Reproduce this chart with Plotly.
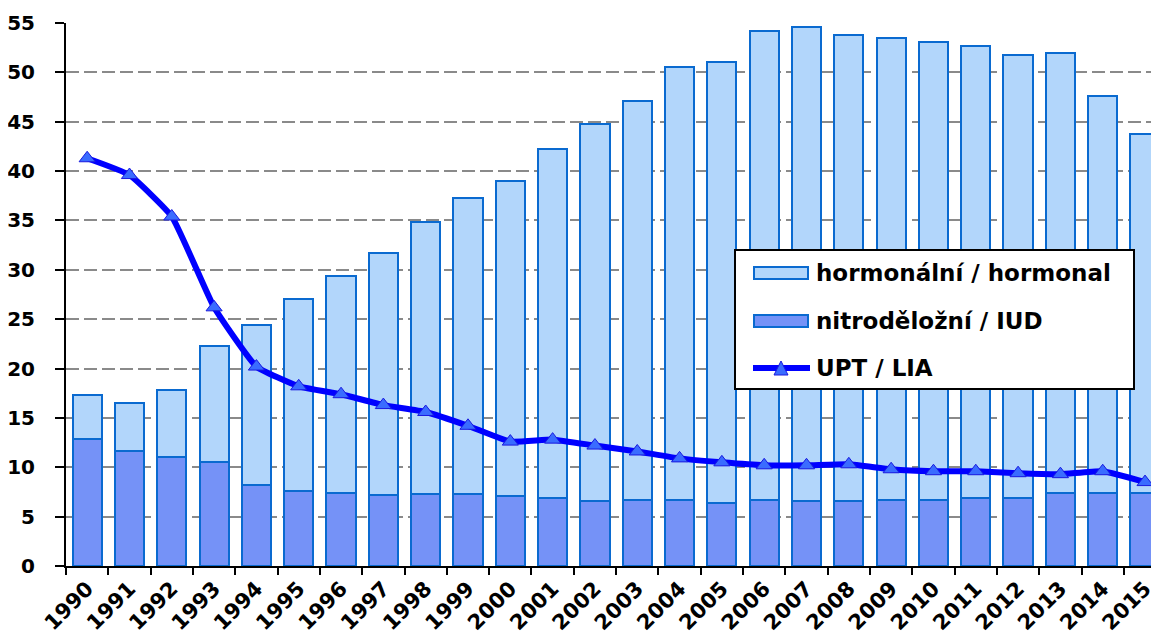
import plotly.graph_objects as go

# ── Data ──────────────────────────────────────────────────────────────────────
years = [str(y) for y in range(1990, 2016)]

iud = [12.9, 11.6, 11.0, 10.5, 8.2, 7.6, 7.4, 7.2, 7.3, 7.3, 7.1, 6.9, 6.6,
       6.7, 6.7, 6.4, 6.7, 6.6, 6.6, 6.7, 6.7, 6.9, 6.9, 7.4, 7.4, 7.4]

hormonal = [4.4, 4.9, 6.8, 11.8, 16.2, 19.4, 22.0, 24.5, 27.5, 30.0, 31.9,
            35.3, 38.2, 40.4, 43.8, 44.6, 47.5, 48.0, 47.2, 46.8, 46.4, 45.8,
            44.9, 44.6, 40.2, 36.4]

upt = [41.3, 39.6, 35.4, 26.2, 20.2, 18.2, 17.4, 16.3, 15.6, 14.2, 12.6,
       12.8, 12.2, 11.6, 10.9, 10.5, 10.2, 10.2, 10.3, 9.8, 9.6, 9.6, 9.4,
       9.3, 9.6, 8.5]

names = ["hormonální / hormonal", "nitroděložní / IUD", "UPT / LIA"]

# ── Style ─────────────────────────────────────────────────────────────────────
FONT = "DejaVu Sans, Liberation Sans, Arial, sans-serif"
OUTLINE = "#0a6ad0"
HORM_COLOR = "#b2d6fb"
IUD_COLOR = "#7592f7"
LINE_COLOR = "#0000ff"
MARKER_COLOR = "#3a6cff"

# page has an 8px body margin, so the figure is a bit smaller than the window
OFF = 8
W, H = 1151, 627
ML, MR, MT, MB = 58, 0, 15, 69


def px_x(px):
    """page pixel x -> paper x"""
    return (px - OFF - ML) / (W - ML - MR)


def px_y(py):
    """page pixel y -> paper y"""
    return (H - MB - (py - OFF)) / (H - MT - MB)


fig = go.Figure()

fig.add_trace(go.Bar(
    x=years, y=iud, name=names[1], showlegend=False,
    marker=dict(color=IUD_COLOR, line=dict(color=OUTLINE, width=2)),
))
fig.add_trace(go.Bar(
    x=years, y=hormonal, name=names[0], showlegend=False,
    marker=dict(color=HORM_COLOR, line=dict(color=OUTLINE, width=2)),
))
fig.add_trace(go.Scatter(
    x=years, y=upt, name=names[2], showlegend=False,
    mode="lines+markers",
    line=dict(color=LINE_COLOR, width=6, shape="spline", smoothing=0.4),
    marker=dict(symbol="triangle-up", size=14, color=MARKER_COLOR,
                line=dict(color="#1a1adf", width=1)),
))

# ── Legend box (drawn by hand to get the wide swatches) ───────────────────────
shapes = [
    dict(type="rect", xref="paper", yref="paper",
         x0=px_x(735), x1=px_x(1134), y0=px_y(389), y1=px_y(250),
         fillcolor="white", line=dict(color="black", width=2), layer="above"),
    dict(type="rect", xref="paper", yref="paper",
         x0=px_x(754), x1=px_x(808), y0=px_y(279), y1=px_y(267),
         fillcolor=HORM_COLOR, line=dict(color=OUTLINE, width=2), layer="above"),
    dict(type="rect", xref="paper", yref="paper",
         x0=px_x(754), x1=px_x(808), y0=px_y(327), y1=px_y(315),
         fillcolor=IUD_COLOR, line=dict(color=OUTLINE, width=2), layer="above"),
    dict(type="line", xref="paper", yref="paper",
         x0=px_x(753), x1=px_x(810), y0=px_y(368), y1=px_y(368),
         line=dict(color=LINE_COLOR, width=6), layer="above"),
    dict(type="path", xref="paper", yref="paper",
         path="M {} {} L {} {} L {} {} Z".format(
             px_x(774), px_y(375), px_x(788), px_y(375), px_x(781), px_y(361)),
         fillcolor=MARKER_COLOR, line=dict(color="#1a1adf", width=1),
         layer="above"),
]

annotations = [
    dict(text=name, xref="paper", yref="paper",
         x=px_x(814), y=px_y(py), xanchor="left", yanchor="middle",
         showarrow=False,
         font=dict(family=FONT, size=23, color="black", weight="bold"))
    for name, py in zip(names, [273, 321, 368])
]

fig.update_layout(
    width=W, height=H,
    barmode="stack", bargap=0.31,
    plot_bgcolor="white", paper_bgcolor="white",
    margin=dict(l=ML, r=MR, t=MT, b=MB),
    font=dict(family=FONT, size=20, color="black", weight="bold"),
    showlegend=False,
    shapes=shapes,
    annotations=annotations,
)

fig.update_xaxes(
    type="category", range=[-0.5, 25.33], automargin=False,
    showline=True, linecolor="black", linewidth=2,
    ticks="outside", tickson="boundaries", ticklen=7, tickcolor="black",
    tickwidth=2, tickangle=-45,
    tickfont=dict(family=FONT, size=21, color="black", weight="bold"),
    showgrid=False,
)
fig.update_yaxes(
    range=[0, 55], dtick=5, automargin=False,
    showline=True, linecolor="black", linewidth=2,
    ticks="outside", ticklen=9, tickcolor="black", tickwidth=2,
    ticklabelstandoff=16,
    tickfont=dict(family=FONT, size=20, color="black", weight="bold"),
    showgrid=True, gridcolor="#8a8a8a", gridwidth=2, griddash="13px,5px",
    zeroline=False,
)

fig.write_html("out.html")
